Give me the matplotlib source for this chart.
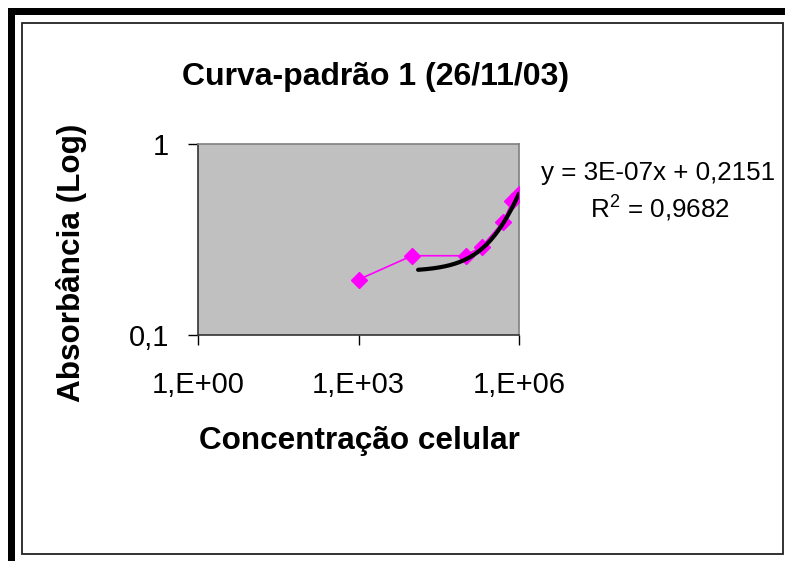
import numpy as np
import matplotlib
matplotlib.use('Agg')
import matplotlib.pyplot as plt
from matplotlib.patches import Rectangle
from matplotlib.ticker import FixedLocator, FuncFormatter, NullLocator

plt.rcParams['font.family'] = ['Liberation Sans', 'DejaVu Sans']
plt.rcParams['mathtext.fontset'] = 'custom'
plt.rcParams['mathtext.rm'] = 'Liberation Sans'

# standard curve readings
concentracao = [1e3, 1e4, 1e5, 2e5, 5e5, 7.5e5, 1e6]
absorbancia = [0.195, 0.26, 0.26, 0.29, 0.39, 0.50, 0.55]

# linear trendline (fitted in Excel)
slope = 3.35e-7
intercept = 0.2151
r2 = 0.9682
trend_start = 1.3e4
trend_end = 1e6

x_ticks = [1e0, 1e3, 1e6]
y_ticks = [0.1, 1]

W, H = 785, 561
fig = plt.figure(figsize=(W / 100, H / 100), dpi=100)
fig.patch.set_facecolor('white')

# chart frame
fig.add_artist(Rectangle((8 / W, 0), 7 / W, 1 - 8 / H, transform=fig.transFigure,
                         facecolor='black', edgecolor='none'))
fig.add_artist(Rectangle((8 / W, 1 - 15 / H), 1, 7 / H, transform=fig.transFigure,
                         facecolor='black', edgecolor='none'))
fig.add_artist(Rectangle((22 / W, 1 - 554 / H), 761 / W, 531 / H, transform=fig.transFigure,
                         facecolor='none', edgecolor='#222222', linewidth=1.3))

ax = fig.add_axes([198 / W, 1 - 335 / H, 321 / W, 191 / H])
ax.set_facecolor('#c0c0c0')
ax.set_xscale('log')
ax.set_yscale('log')
ax.set_xlim(1e0, 1e6)
ax.set_ylim(0.1, 1)

ax.plot(concentracao, absorbancia, color='#ff00ff', linewidth=1.2,
        marker='D', markersize=8.5, markeredgecolor='#ff00ff', zorder=3)

xt = np.logspace(np.log10(trend_start), np.log10(trend_end), 200)
ax.plot(xt, slope * xt + intercept, color='black', linewidth=3,
        solid_capstyle='round', zorder=4)

ax.xaxis.set_major_locator(FixedLocator(x_ticks))
ax.yaxis.set_major_locator(FixedLocator(y_ticks))
ax.xaxis.set_minor_locator(NullLocator())
ax.yaxis.set_minor_locator(NullLocator())
ax.xaxis.set_major_formatter(FuncFormatter(lambda v, p: f'1,E+{int(round(np.log10(v))):02d}'))
ax.yaxis.set_major_formatter(FuncFormatter(lambda v, p: f'{v:g}'.replace('.', ',')))
ax.tick_params(axis='x', direction='out', length=7, width=1, pad=19, labelsize=21)
ax.tick_params(axis='y', direction='out', length=7, width=1, pad=14, labelsize=21)

for side in ['top', 'right']:
    ax.spines[side].set_color('#808080')
for side in ['left', 'bottom']:
    ax.spines[side].set_color('#333333')
for s in ax.spines.values():
    s.set_linewidth(1.2)

fig.text(376 / W, 1 - 77 / H, 'Curva-padrão 1 (26/11/03)', ha='center', va='center',
         fontsize=23, fontweight='bold')
fig.text(359 / W, 1 - 441 / H, 'Concentração celular', ha='center', va='center',
         fontsize=22.7, fontweight='bold')
fig.text(72 / W, 1 - 263 / H, 'Absorbância (Log)', ha='center', va='center',
         rotation=90, fontsize=22.7, fontweight='bold')

slope_txt = f'{slope:.0E}'
fig.text(658 / W, 1 - 173 / H, f'y = {slope_txt}x + {intercept:.4f}'.replace('.', ','),
         ha='center', va='center', fontsize=18.7)
fig.text(660 / W, 1 - 208 / H, f'R$^2$ = {r2:.4f}'.replace('.', ','),
         ha='center', va='center', fontsize=18.7)

fig.savefig('out.png', dpi=100)
